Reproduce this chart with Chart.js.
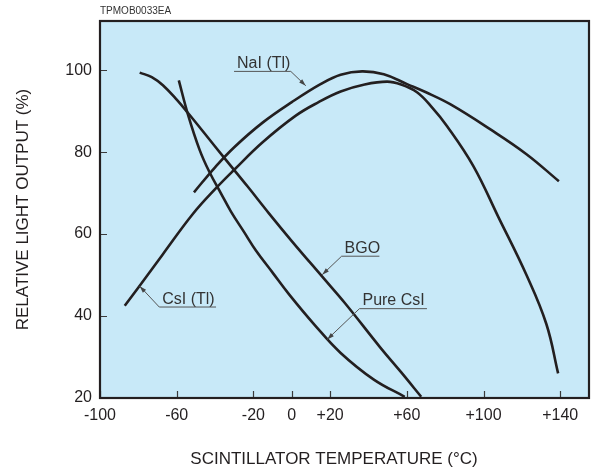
<!DOCTYPE html>
<html>
<head>
<meta charset="utf-8">
<script src="https://cdn.jsdelivr.net/npm/chart.js@4.4.1/dist/chart.umd.min.js"></script>
<style>
  html, body { margin: 0; padding: 0; background: #fff; }
</style>
</head>
<body>
<canvas id="lightChart" width="592" height="471"></canvas>
<script>
// values (temperature in deg C, output in %)
var naiTemp = [-51, -40, -30, -15.2, 0, 15, 25.5, 36.7, 48, 60.1, 70, 82.6, 103.4, 122.4, 139.3];
var naiOut  = [70.2, 76.3, 81.2, 87.2, 92.2, 96.6, 98.9, 99.7, 99.0, 96.6, 94.6, 91.7, 85.6, 79.5, 72.9];

var csiTlTemp = [-87.1, -79.3, -67.2, -51.6, -39.5, -30, -15.2, 2.1, 14, 25.5, 38, 49.7, 57, 65.3, 73, 80.9, 94.7, 107.7, 122.4, 132.8, 138.9];
var csiTlOut  = [42.5, 47.4, 55.1, 64.9, 71.2, 75.7, 82.4, 88.9, 92.2, 94.8, 96.5, 97.2, 96.5, 94.6, 91.0, 86.4, 76.6, 64.2, 50.0, 38.0, 26.0];

var bgoTemp = [-79.3, -73, -67.2, -60, -54.2, -45, -35.2, -23, -11.8, 0, 15.9, 28, 46.2, 57, 67.5];
var bgoOut  = [99.4, 98.3, 96.3, 92.8, 89.6, 84.3, 78.6, 71.6, 65.0, 58.3, 49.6, 43.0, 32.3, 26.3, 20.3];

var pureCsiTemp = [-58.9, -54.2, -48, -43, -37, -31.7, -25, -18.7, -10, -1.4, 12, 25.5, 42.8, 58.9];
var pureCsiOut  = [97.5, 89.3, 80.5, 75.2, 70.0, 65.5, 60.6, 56.0, 50.6, 45.3, 37.8, 31.0, 24.5, 20.3];

var xTickValues = [-100, -60, -20, 0, 20, 60, 100, 140];
var yTickValues = [20, 40, 60, 80, 100];

var curveNames = ['NaI (Tl)', 'CsI (Tl)', 'BGO', 'Pure CsI'];

// callouts: label text, underline span, arrow tip (all in chart units)
var callouts = [
  { text: 'NaI (Tl)', from: -30.1, to: -0.5, at: 99.7, tipX: 7.3, tipY: 96.2, side: 'right' },
  { text: 'CsI (Tl)', from: -69.1, to: -39.5, at: 42.2, tipX: -79.3, tipY: 47.3, side: 'left' },
  { text: 'BGO', from: 26, to: 45.7, at: 54.6, tipX: 15.9, tipY: 50.1, side: 'left' },
  { text: 'Pure CsI', from: 35.3, to: 70.5, at: 41.8, tipX: 18.5, tipY: 34.3, side: 'left' }
];

var FONT = '"Liberation Sans", Arial, Helvetica, sans-serif';
var INK = '#231f20';

function toPoints(xs, ys) {
  var pts = [];
  for (var i = 0; i < xs.length; i++) pts.push({ x: xs[i], y: ys[i] });
  return pts;
}

function curve(label, xs, ys) {
  return {
    label: label,
    data: toPoints(xs, ys),
    borderColor: INK,
    borderWidth: 2.6,
    pointRadius: 0,
    fill: false,
    tension: 0.4
  };
}

var decorPlugin = {
  id: 'decor',
  beforeDraw: function(chart) {
    var ctx = chart.ctx, a = chart.chartArea;
    ctx.save();
    ctx.fillStyle = '#c8e9f8';
    ctx.fillRect(a.left, a.top, a.right - a.left, a.bottom - a.top);
    ctx.restore();
  },
  afterDatasetsDraw: function(chart) {
    var ctx = chart.ctx, a = chart.chartArea;
    var xs = chart.scales.x, ys = chart.scales.y;
    ctx.save();

    // inward tick marks
    ctx.strokeStyle = '#3a3a3a';
    ctx.lineWidth = 1.2;
    ctx.beginPath();
    xTickValues.forEach(function(v) {
      var px = Math.round(xs.getPixelForValue(v)) + 0.5;
      ctx.moveTo(px, a.bottom);
      ctx.lineTo(px, a.bottom - 7);
    });
    yTickValues.forEach(function(v) {
      var py = Math.round(ys.getPixelForValue(v)) + 0.5;
      ctx.moveTo(a.left, py);
      ctx.lineTo(a.left + 7, py);
    });
    ctx.stroke();

    // frame
    ctx.strokeStyle = INK;
    ctx.lineWidth = 2.2;
    ctx.strokeRect(a.left, a.top, a.right - a.left, a.bottom - a.top);

    // callouts
    ctx.font = '16px ' + FONT;
    ctx.textBaseline = 'alphabetic';
    ctx.textAlign = 'left';
    callouts.forEach(function(c) {
      var x1 = xs.getPixelForValue(c.from), x2 = xs.getPixelForValue(c.to);
      var uy = ys.getPixelForValue(c.at);
      var tx = xs.getPixelForValue(c.tipX), ty = ys.getPixelForValue(c.tipY);
      var sx = c.side == 'right' ? x2 : x1;

      ctx.fillStyle = '#333';
      ctx.fillText(c.text, x1 + 3, uy - 3.5);

      ctx.strokeStyle = '#555';
      ctx.lineWidth = 1;
      ctx.beginPath();
      ctx.moveTo(x1, uy);
      ctx.lineTo(x2, uy);
      ctx.moveTo(sx, uy);
      ctx.lineTo(tx, ty);
      ctx.stroke();

      // arrow head
      var ang = Math.atan2(ty - uy, tx - sx);
      ctx.fillStyle = '#444';
      ctx.beginPath();
      ctx.moveTo(tx, ty);
      ctx.lineTo(tx - 7 * Math.cos(ang) + 2.2 * Math.sin(ang), ty - 7 * Math.sin(ang) - 2.2 * Math.cos(ang));
      ctx.lineTo(tx - 7 * Math.cos(ang) - 2.2 * Math.sin(ang), ty - 7 * Math.sin(ang) + 2.2 * Math.cos(ang));
      ctx.closePath();
      ctx.fill();
    });

    // figure code and x axis title
    ctx.fillStyle = '#333';
    ctx.font = '10px ' + FONT;
    ctx.fillText('TPMOB0033EA', 100, 13.5);

    ctx.fillStyle = INK;
    ctx.font = '17px ' + FONT;
    ctx.textAlign = 'center';
    ctx.fillText('SCINTILLATOR TEMPERATURE (°C)', 334, 464);
    ctx.restore();
  }
};

var ctx = document.getElementById('lightChart');
var lightChart = new Chart(ctx, {
  type: 'line',
  data: {
    datasets: [
      curve(curveNames[0], naiTemp, naiOut),
      curve(curveNames[1], csiTlTemp, csiTlOut),
      curve(curveNames[2], bgoTemp, bgoOut),
      curve(curveNames[3], pureCsiTemp, pureCsiOut)
    ]
  },
  options: {
    responsive: false,
    animation: false,
    layout: { padding: { top: 21, right: 3, left: 0, bottom: 0 } },
    plugins: {
      legend: { display: false },
      tooltip: { enabled: false }
    },
    scales: {
      x: {
        type: 'linear',
        min: -100,
        max: 155,
        afterBuildTicks: function(s) {
          s.ticks = xTickValues.map(function(v) { return { value: v }; });
        },
        afterFit: function(s) { s.height = 73; },
        grid: { display: false, drawTicks: false },
        border: { display: false },
        ticks: {
          color: INK,
          padding: 8,
          maxRotation: 0,
          autoSkip: false,
          font: { family: FONT, size: 16 },
          callback: function(v) { return v > 0 ? '+' + v : '' + v; }
        }
      },
      y: {
        type: 'linear',
        min: 20,
        max: 112,
        afterBuildTicks: function(s) {
          s.ticks = yTickValues.map(function(v) { return { value: v }; });
        },
        afterFit: function(s) { s.width = 100; },
        grid: { display: false, drawTicks: false },
        border: { display: false },
        title: {
          display: true,
          text: 'RELATIVE LIGHT OUTPUT (%)',
          color: INK,
          font: { family: FONT, size: 17 },
          padding: { top: 13, bottom: 0 }
        },
        ticks: {
          color: INK,
          padding: 8,
          font: { family: FONT, size: 16 }
        }
      }
    }
  },
  plugins: [decorPlugin]
});
</script>
</body>
</html>
